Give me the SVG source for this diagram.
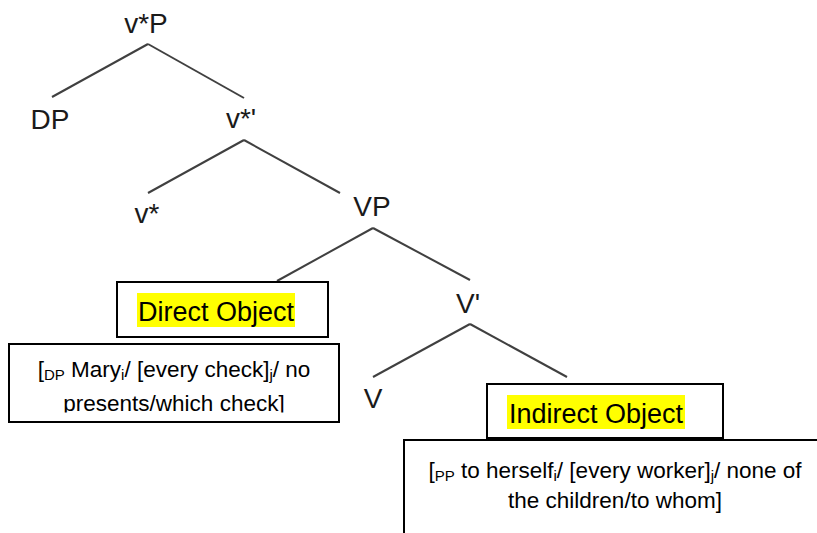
<svg xmlns="http://www.w3.org/2000/svg" width="817" height="533" viewBox="0 0 817 533">
<defs>
<style>
.lbl{font-family:"Liberation Sans",Arial,sans-serif;font-size:28px;fill:#1a1a1a;text-anchor:middle}
.big{font-family:"Liberation Sans",Arial,sans-serif;font-size:27px;fill:#000;text-anchor:middle}
.txt{font-family:"Liberation Sans",Arial,sans-serif;font-size:22.5px;fill:#000;text-anchor:middle}
.sub{font-size:15px}
.edge{stroke:#404040;stroke-width:2;fill:none}
.box{fill:#fff;stroke:#000;stroke-width:2}
.hl{fill:#ffff00}
</style>
<clipPath id="clipDP"><rect x="10" y="345" width="328" height="67.5"/></clipPath>
</defs>
<rect width="817" height="533" fill="#fff"/>
<g id="connectors">
<line class="edge" x1="148" y1="44" x2="52" y2="97"/>
<line class="edge" x1="148" y1="44" x2="244" y2="98"/>
<line class="edge" x1="244" y1="140" x2="148" y2="193"/>
<line class="edge" x1="244" y1="140" x2="340" y2="193"/>
<line class="edge" x1="373" y1="228" x2="277" y2="281"/>
<line class="edge" x1="373" y1="228" x2="470" y2="280"/>
<line class="edge" x1="470" y1="324" x2="373" y2="377"/>
<line class="edge" x1="470" y1="324" x2="567" y2="377"/>
</g>
<g id="node-vstarP"><text class="lbl" x="146" y="33">v*P</text></g>
<g id="node-DP"><text class="lbl" x="50" y="129">DP</text></g>
<g id="node-vstarbar"><text class="lbl" x="241" y="128">v*'</text></g>
<g id="node-vstar"><text class="lbl" x="147" y="223">v*</text></g>
<g id="node-VP"><text class="lbl" x="372" y="216">VP</text></g>
<g id="node-Vbar"><text class="lbl" x="468" y="313">V'</text></g>
<g id="node-V"><text class="lbl" x="373" y="408">V</text></g>
<g id="node-direct-object">
<rect class="box" x="117" y="282" width="211" height="55"/>
<rect class="hl" x="137" y="293" width="158" height="34"/>
<text class="big" x="216" y="321">Direct Object</text>
</g>
<g id="node-dp-content">
<rect class="box" x="9" y="344" width="330" height="78"/>
<g clip-path="url(#clipDP)">
<text class="txt" x="174" y="377">[<tspan class="sub" dy="3">DP</tspan><tspan dy="-3"> Mary</tspan><tspan class="sub" dy="3">i</tspan><tspan dy="-3">/ [every check]</tspan><tspan class="sub" dy="3">j</tspan><tspan dy="-3">/ no</tspan></text>
<text class="txt" x="174" y="411">presents/which check]</text>
</g>
</g>
<g id="node-indirect-object">
<rect class="box" x="487" y="384" width="236" height="54"/>
<rect class="hl" x="507" y="395" width="178" height="34"/>
<text class="big" x="596" y="423">Indirect Object</text>
</g>
<g id="node-pp-content">
<rect class="box" x="404" y="440" width="422" height="110"/>
<text class="txt" x="615" y="478">[<tspan class="sub" dy="3">PP</tspan><tspan dy="-3"> to herself</tspan><tspan class="sub" dy="3">i</tspan><tspan dy="-3">/ [every worker]</tspan><tspan class="sub" dy="3">j</tspan><tspan dy="-3">/ none of</tspan></text>
<text class="txt" x="615" y="508">the children/to whom]</text>
</g>
</svg>
